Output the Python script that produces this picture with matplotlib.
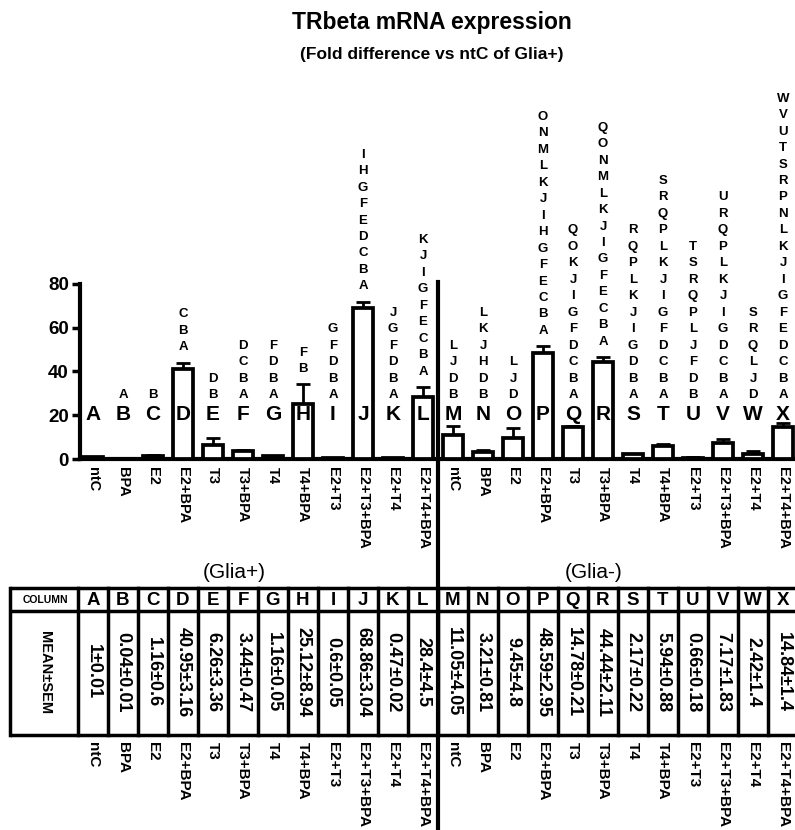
import numpy as np
import matplotlib.pyplot as plt
from matplotlib.transforms import blended_transform_factory

plt.rcParams['font.family'] = ['Liberation Sans', 'DejaVu Sans']

# DATA
columns = list("ABCDEFGHIJKLMNOPQRSTUVWX")
treatments = ["ntC", "BPA", "E2", "E2+BPA", "T3", "T3+BPA", "T4", "T4+BPA",
              "E2+T3", "E2+T3+BPA", "E2+T4", "E2+T4+BPA"] * 2
means = [1, 0.04, 1.16, 40.95, 6.26, 3.44, 1.16, 25.12, 0.6, 68.86, 0.47, 28.4,
         11.05, 3.21, 9.45, 48.59, 14.78, 44.44, 2.17, 5.94, 0.66, 7.17, 2.42, 14.84]
sems = [0.01, 0.01, 0.6, 3.16, 3.36, 0.47, 0.05, 8.94, 0.05, 3.04, 0.02, 4.5,
        4.05, 0.81, 4.8, 2.95, 0.21, 2.11, 0.22, 0.88, 0.18, 1.83, 1.4, 1.4]
# significant differences vs these columns (bottom to top)
sig = ["", "A", "B", "ABC", "BD", "ABCD", "ABDF", "BF", "ABDFG", "ABCDEFGHI",
       "ABDFGJ", "ABCEFGIJK", "BDJL", "BDHJKL", "DJL", "ABCEFGHIJKLMNO",
       "ABCDFGIJKOQ", "ABCEFGIJKLMNOQ", "ABDGIJKLPQR", "ABCDFGIJKLPQRS",
       "BDFJLPQRST", "ABCDGIJKLPQRU", "DJLQRS", "ABCDEFGIJKLNPRSTUVW"]
groups = ["(Glia+)", "(Glia-)"]

x = np.arange(len(columns))

fig = plt.figure(figsize=(7.95, 8.30), dpi=100)
W, H = 795, 830

# main bar axes
ax = fig.add_axes([80 / W, (H - 459) / H, 715 / W, 175 / H])
ax.patch.set_alpha(0)
ax.bar(x, means, width=0.68, color="white", edgecolor="black", linewidth=2.7, zorder=3)
ax.errorbar(x, means, yerr=[np.zeros(len(x)), sems], fmt="none", ecolor="black",
            elinewidth=2, capsize=5, capthick=2, zorder=2)
ax.set_xlim(-0.433, 23.4)
ax.set_ylim(0, 80)
ax.set_yticks([0, 20, 40, 60, 80])
ax.set_yticklabels(["0", "20", "40", "60", "80"], fontsize=13.5, fontweight="bold")
ax.set_xticks(x)
ax.set_xticklabels(treatments, rotation=-90, fontsize=10.5, fontweight="bold", va="top")
ax.tick_params(axis="x", length=0, pad=6)
ax.tick_params(axis="y", length=6, width=2.5, pad=2)
for s in ["top", "right"]:
    ax.spines[s].set_visible(False)
ax.spines["left"].set_linewidth(3)
ax.spines["bottom"].set_linewidth(3)
ax.spines["left"].set_bounds(0, 80)

# column letters and significance stacks
for i in range(len(x)):
    ax.text(x[i], 20.5, columns[i], ha="center", va="center", fontsize=15,
            fontweight="bold", zorder=4)
    base = max(29.2, means[i] + sems[i] + 7)
    for k, ch in enumerate(sig[i]):
        ax.text(x[i], base + k * 7.53, ch, ha="center", va="center",
                fontsize=9.5, fontweight="bold")

# overlay axes in pixels for title and table
tab = fig.add_axes([0, 0, 1, 1], zorder=-1)
tab.set_xlim(0, W)
tab.set_ylim(H, 0)
tab.axis("off")
bt = blended_transform_factory(ax.transData, tab.transData)

tab.text(432, 22, "TRbeta mRNA expression", ha="center", va="center",
         fontsize=16.5, fontweight="bold")
tab.text(432, 55, "(Fold difference vs ntC of Glia+)", ha="center", va="center",
         fontsize=12.5, fontweight="bold")

tab.text(4.7, 572, groups[0], transform=bt, ha="center", va="center", fontsize=15)
tab.text(16.7, 572, groups[1], transform=bt, ha="center", va="center", fontsize=15)

# table
top, mid, bot = 588, 611, 735
for yy in [top, mid, bot]:
    tab.plot([10, W], [yy, yy], color="black", lw=2.5, solid_capstyle="butt")
tab.plot([10, 10], [top, bot], color="black", lw=2.5)
for b in np.arange(-0.5, 24, 1):
    tab.plot([b, b], [top, bot], color="black", lw=2.5, transform=bt)
tab.text(45, (top + mid) / 2, "COLUMN", ha="center", va="center", fontsize=7.5,
         fontweight="bold")
tab.text(45, (mid + bot) / 2, "MEAN±SEM", ha="center", va="center", fontsize=10.5,
         fontweight="bold", rotation=-90)
for i in range(len(x)):
    tab.text(x[i], (top + mid) / 2 + 1, columns[i], transform=bt, ha="center",
             va="center", fontsize=13.5, fontweight="bold")
    tab.text(x[i], 672, f"{means[i]:g}±{sems[i]:g}", transform=bt, ha="center",
             va="center", fontsize=13, fontweight="bold", rotation=-90)
    tab.text(x[i], 742, treatments[i], transform=bt, ha="center", va="top",
             fontsize=11, fontweight="bold", rotation=-90)

# divider between Glia+ and Glia-
tab.plot([11.5, 11.5], [282, H], color="black", lw=3, transform=bt)

fig.savefig("out.png", dpi=100)
